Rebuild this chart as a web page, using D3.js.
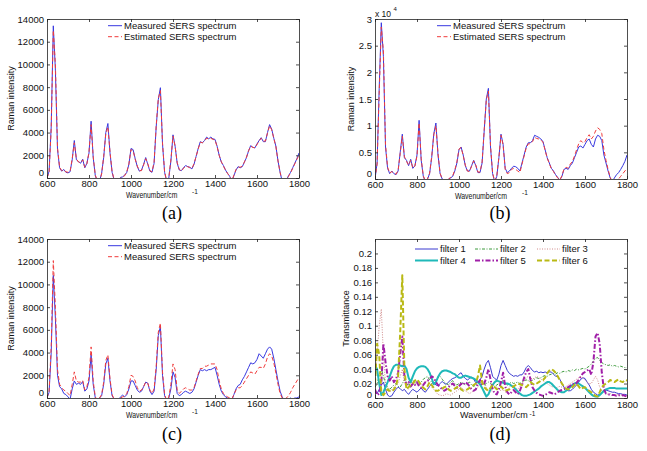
<!DOCTYPE html>
<html><head><meta charset="utf-8">
<script src="https://cdn.jsdelivr.net/npm/d3@7"></script>
<style>body{margin:0;background:#fff}svg{display:block}</style>
</head><body>
<svg id="chart" width="647" height="451"></svg>
<script>
// ---------------- DATA ----------------
const wavenumbers = [
 600,610,620,630,640,650,660,670,680,690, 700,710,720,730,740,750,760,770,780,790,
 800,810,820,830,840,850,860,870,880,890, 900,910,920,930,940,950,960,970,980,990,
 1000,1010,1020,1030,1040,1050,1060,1070,1080,1090, 1100,1110,1120,1130,1140,1150,1160,1170,1180,1190,
 1200,1210,1220,1230,1240,1250,1260,1270,1280,1290, 1300,1310,1320,1330,1340,1350,1360,1370,1380,1390,
 1400,1410,1420,1430,1440,1450,1460,1470,1480,1490, 1500,1510,1520,1530,1540,1550,1560,1570,1580,1590,
 1600,1610,1620,1630,1640,1650,1660,1670,1680,1690, 1700,1710,1720,1730,1740,1750,1760,1770,1780,1790,
 1800];
const xTicks = [600,800,1000,1200,1400,1600,1800];
const yTicksAC = [0,2000,4000,6000,8000,10000,12000,14000];
const yTicksB = [0,5000,10000,15000,20000,25000,30000];
const yTicksD = [0,0.02,0.04,0.06,0.08,0.1,0.12,0.14,0.16,0.18,0.2];

const measuredA = [
 0,600,4500,13400,9500,2500,900,600,750,500,
 450,550,1600,3300,1600,1450,1300,1650,900,1300,
 2200,5000,1800,200,-300,-300,400,1800,4000,4800,
 2200,500,-200,-400,-300,50,100,250,500,1200,
 2600,2500,1700,1000,600,700,1200,1800,1200,600,
 500,1300,4500,6900,7950,3000,500,-300,0,1500,
 3800,2800,1300,700,650,900,1100,1000,950,800,
 1200,1900,2600,3200,3100,3300,3600,3450,3600,3450,
 3400,2800,2000,1400,1100,700,400,150,-300,200,
 700,1000,900,1000,1400,1800,2400,2850,2700,2650,
 3000,3300,3550,3200,3200,4000,4700,4300,3500,2800,
 1500,500,-300,-500,-200,200,500,900,1300,1700,
 2200];
const estimatedA = [
 0,500,4300,13000,10000,2700,950,650,700,550,
 500,600,1700,3100,1700,1400,1350,1600,950,1250,
 2300,4700,1900,250,-250,-300,350,1900,3900,4500,
 2300,550,-150,-400,-300,0,100,200,550,1250,
 2500,2400,1650,1050,650,650,1150,1700,1250,650,
 550,1400,4600,7000,7700,3100,550,-250,50,1600,
 3700,2800,1350,750,600,850,1050,1000,900,850,
 1250,1900,2550,3150,3100,3250,3500,3450,3500,3400,
 3350,2750,2000,1450,1050,700,400,150,-250,250,
 750,950,950,1050,1400,1850,2400,2800,2700,2650,
 2950,3250,3500,3250,3250,3950,4600,4250,3500,2750,
 1500,500,-300,-450,-200,150,450,850,1250,1650,
 2000];
const measuredB = [
 0,3000,17000,29300,23000,6000,2000,1000,1500,1000,
 800,1500,5000,8400,4000,3500,2500,3700,2000,2500,
 4500,11000,3500,500,-500,0,1000,4000,8500,10500,
 4500,1000,0,-300,-500,0,200,500,1500,3000,
 5500,6000,4500,2500,1500,1500,2500,3500,2500,1200,
 1200,3000,9000,15000,17000,6000,1000,-500,500,4000,
 8400,6500,2000,1200,1500,2000,2400,2300,2000,1500,
 3000,4500,6000,6800,6800,7200,8200,8000,7800,7500,
 7000,5500,4000,3000,2000,1500,800,300,-200,500,
 1800,2000,1800,2500,3000,4000,5000,6000,6200,5800,
 6500,7200,7500,6500,6000,7500,8200,8000,7200,4500,
 3000,1500,200,-500,200,800,1200,1800,2500,3300,
 4500];
const estimatedB = [
 0,2800,16000,28500,24000,6500,2200,1100,1400,1100,
 900,1600,4800,8000,4200,3300,2600,3500,2100,2400,
 4300,10500,3800,600,-400,0,1100,4200,8300,10000,
 4800,1100,0,-300,-400,0,300,600,1700,3200,
 5600,5900,4400,2600,1500,1400,2400,3400,2600,1300,
 1300,3200,9200,14800,16500,6300,1100,-400,600,4100,
 8200,6400,1800,1000,1200,1800,2000,1800,1500,1200,
 2800,4300,5800,6600,6600,7000,7800,7600,7500,7300,
 6900,5400,3900,2900,1900,1400,700,200,-200,600,
 1900,2200,2000,2800,3300,4300,5500,6600,7200,6800,
 7000,7800,8300,7500,8000,9000,9600,9300,8500,5500,
 3500,1800,300,-500,-600,-300,0,500,1000,1500,
 2000];
const measuredC1 = [
 0,500,4000,10800,7000,2000,1000,800,400,300,
 100,-100,800,1500,1200,1300,1200,1450,600,800,
 1500,3800,1200,0,-200,0,200,1200,3000,3500,
 1500,200,-100,-200,-200,100,250,100,300,800,
 1500,1500,1100,700,500,600,1000,1400,1300,600,
 300,600,2500,5500,6300,2000,200,-200,0,800,
 2300,1800,400,200,300,500,600,500,400,500,
 800,1400,2000,2500,2400,2500,2400,2500,2500,2600,
 2700,2000,1200,600,300,100,0,-100,-200,300,
 800,1100,1200,1600,1900,2300,2700,3100,3000,3100,
 3400,3900,3700,3500,3900,4300,4500,4300,3500,2500,
 1500,600,100,-200,-200,-100,0,-100,0,0,
 100];
const measuredC2 = [
 0,600,4500,12100,8000,2500,1200,900,700,600,
 400,200,1200,2300,1500,1400,1400,1550,700,1000,
 1800,4500,1500,100,-200,0,300,1400,3300,3800,
 1700,300,-100,-200,-200,0,100,150,400,1000,
 2000,1900,1500,900,600,700,1000,1400,1300,700,
 400,800,2800,5800,6600,2300,300,-200,100,1200,
 3000,2500,700,400,600,800,900,800,700,700,
 900,1500,2100,2600,2600,2800,2800,2900,3000,3000,
 3000,2500,1500,800,400,200,100,0,-100,300,
 700,900,900,1100,1400,1700,2000,2300,2200,2100,
 2400,2700,2700,2600,3000,3600,3900,3700,3100,2200,
 1200,400,0,-100,0,200,500,900,1200,1500,
 1800];
const filter1 = [
 .008,.006,.012,.018,.022,.012,.004,.002,.003,.008,
 .012,.015,.013,.010,.012,.008,.005,.009,.012,.010,
 .008,.011,.014,.010,.008,.012,.016,.020,.022,.018,
 .017,.020,.023,.020,.019,.022,.025,.027,.028,.030,
 .033,.035,.030,.027,.025,.027,.029,.026,.021,.022,
 .025,.030,.040,.048,.052,.042,.030,.027,.025,.033,
 .045,.052,.045,.038,.034,.032,.030,.031,.030,.032,
 .032,.036,.042,.045,.042,.038,.036,.037,.035,.036,
 .035,.036,.035,.036,.036,.033,.030,.030,.026,.020,
 .015,.012,.010,.010,.012,.015,.018,.022,.026,.028,
 .027,.022,.018,.012,.008,.006,.004,.005,.008,.010,
 .011,.010,.009,.008,.008,.007,.006,.006,.005,.005,
 .004];
const filter2 = [
 .015,.020,.030,.040,.030,.020,.015,.012,.015,.018,
 .020,.016,.015,.020,.025,.022,.018,.020,.024,.022,
 .020,.018,.022,.026,.028,.030,.025,.022,.020,.024,
 .028,.030,.026,.022,.020,.018,.022,.024,.020,.018,
 .020,.022,.020,.018,.020,.022,.018,.016,.018,.020,
 .022,.020,.018,.020,.022,.020,.018,.016,.018,.020,
 .022,.024,.020,.018,.020,.022,.020,.021,.022,.020,
 .022,.024,.025,.024,.022,.025,.026,.028,.027,.028,
 .030,.031,.030,.032,.033,.034,.033,.035,.034,.036,
 .037,.036,.038,.037,.039,.038,.040,.039,.040,.041,
 .040,.042,.044,.047,.051,.055,.056,.052,.049,.047,
 .046,.045,.046,.044,.045,.044,.043,.044,.043,.042,
 .042];
const filter3 = [
 .020,.060,.100,.123,.060,.020,.010,.008,.012,.015,
 .018,.020,.030,.040,.020,.015,.012,.015,.018,.020,
 .022,.020,.018,.020,.022,.024,.020,.015,.012,.008,
 .005,.004,.003,.004,.006,.005,.004,.006,.008,.010,
 .012,.015,.012,.010,.008,.006,.008,.010,.012,.015,
 .020,.025,.022,.015,.010,.008,.012,.016,.015,.012,
 .010,.012,.008,.010,.015,.018,.016,.014,.012,.016,
 .020,.024,.028,.030,.028,.026,.028,.030,.028,.026,
 .024,.022,.020,.018,.016,.015,.014,.015,.016,.015,
 .014,.016,.018,.020,.022,.024,.026,.028,.030,.028,
 .025,.022,.020,.020,.025,.030,.025,.015,.010,.008,
 .006,.005,.006,.005,.004,.005,.004,.004,.003,.004,
 .003];
const filter4 = [
 .045,.040,.020,.004,.008,.015,.022,.030,.038,.044,
 .046,.046,.045,.044,.045,.040,.028,.022,.030,.037,
 .041,.043,.044,.044,.043,.040,.035,.027,.019,.022,
 .029,.034,.037,.038,.038,.037,.036,.034,.033,.030,
 .028,.028,.030,.031,.030,.029,.028,.027,.025,.022,
 .019,.014,.008,.002,.005,.012,.018,.022,.024,.023,
 .022,.021,.020,.020,.019,.017,.015,.012,.009,.006,
 .004,.003,.003,.004,.005,.007,.009,.011,.013,.016,
 .018,.020,.022,.022,.020,.017,.014,.011,.009,.008,
 .008,.010,.012,.015,.018,.020,.021,.020,.018,.016,
 .014,.011,.008,.005,.003,.002,.002,.004,.007,.010,
 .012,.013,.014,.014,.014,.013,.013,.013,.013,.013,
 .013];
const filter5 = [
 .012,.004,.006,.020,.075,.050,.030,.024,.030,.022,
 .026,.035,.060,.085,.030,.018,.022,.016,.020,.018,
 .022,.016,.014,.018,.022,.024,.026,.030,.028,.022,
 .018,.015,.012,.010,.012,.015,.018,.020,.017,.014,
 .016,.020,.018,.022,.020,.016,.012,.010,.012,.020,
 .025,.018,.020,.028,.040,.026,.012,.006,.005,.012,
 .022,.035,.016,.008,.005,.008,.011,.008,.005,.010,
 .018,.028,.036,.040,.026,.015,.010,.007,.005,.004,
 .003,.004,.006,.008,.007,.005,.006,.008,.010,.011,
 .012,.014,.015,.017,.020,.019,.021,.025,.030,.034,
 .036,.038,.040,.032,.050,.085,.090,.075,.035,.012,
 .006,.005,.005,.004,.004,.003,.004,.003,.004,.003,
 .002];
const filter6 = [
 .020,.075,.060,.008,.004,.008,.012,.010,.009,.012,
 .016,.030,.090,.170,.040,.012,.015,.018,.020,.024,
 .026,.022,.018,.014,.012,.016,.022,.018,.014,.010,
 .010,.012,.013,.015,.016,.012,.010,.011,.013,.015,
 .016,.012,.010,.011,.012,.014,.016,.018,.020,.030,
 .045,.022,.015,.012,.010,.014,.018,.015,.012,.014,
 .016,.013,.010,.011,.012,.014,.016,.018,.020,.019,
 .018,.016,.015,.018,.022,.020,.018,.020,.022,.024,
 .025,.028,.034,.038,.040,.038,.035,.030,.025,.020,
 .016,.013,.012,.013,.015,.018,.020,.016,.012,.014,
 .015,.012,.010,.008,.005,.003,.002,.008,.015,.018,
 .020,.022,.025,.023,.022,.024,.026,.023,.022,.025,
 .024];

// ---------------- DRAWING ----------------
const svg = d3.select("#chart");
const SANS = "'Liberation Sans', Arial, Helvetica, sans-serif";
const SERIF = "'Liberation Serif', 'Times New Roman', serif";
const BLUE = "#3838e0", RED = "#f03c3c";

function drawPanel(o) {
  const x = d3.scaleLinear().domain([600, 1800]).range([o.left, o.right]);
  const y = d3.scaleLinear().domain(o.yDomain).range([o.bottom, o.top]);
  const clipId = "clip-" + o.id;
  svg.append("clipPath").attr("id", clipId).append("rect")
    .attr("x", o.left).attr("y", o.top)
    .attr("width", o.right - o.left).attr("height", o.bottom - o.top);
  const g = svg.append("g");
  const line = d3.line().x((d, i) => x(wavenumbers[i])).y(d => y(d));
  o.series.forEach(s => {
    g.append("path").attr("clip-path", `url(#${clipId})`)
      .attr("d", line(s.values)).attr("fill", "none")
      .attr("stroke", s.color).attr("stroke-width", s.width)
      .attr("stroke-dasharray", s.dash || null)
      .attr("stroke-linejoin", "round");
  });
  const style = sel => {
    sel.selectAll("path.domain").attr("stroke", "#222").attr("stroke-width", 0.8);
    sel.selectAll(".tick line").attr("stroke", "#222").attr("stroke-width", 0.8);
    sel.selectAll("text").attr("font-family", SANS).attr("font-size", 9.5).attr("fill", "#111");
  };
  svg.append("g").attr("transform", `translate(0,${o.bottom})`)
    .call(d3.axisBottom(x).tickValues(xTicks).tickSizeInner(-3).tickSizeOuter(0).tickPadding(o.xPad).tickFormat(d3.format("d")))
    .call(style);
  svg.append("g").attr("transform", `translate(0,${o.top})`)
    .call(d3.axisTop(x).tickValues(xTicks).tickSizeInner(-3).tickSizeOuter(0).tickFormat(""))
    .call(style);
  const yAx = svg.append("g").attr("transform", `translate(${o.left},0)`)
    .call(d3.axisLeft(y).tickValues(o.yTicks).tickSizeInner(-3).tickSizeOuter(0).tickPadding(3).tickFormat(o.yFormat))
    .call(style);
  // MATLAB nudges the zero label up so it clears the x tick labels
  yAx.selectAll(".tick").filter(d => d === 0).select("text").attr("y", o.zeroShift);
  svg.append("g").attr("transform", `translate(${o.right},0)`)
    .call(d3.axisRight(y).tickValues(o.yTicks).tickSizeInner(-3).tickSizeOuter(0).tickFormat(""))
    .call(style);
  // y label
  svg.append("text").attr("transform", `translate(${o.yLabelX},${(o.top + o.bottom) / 2}) rotate(-90)`)
    .attr("text-anchor", "middle").attr("font-family", SANS).attr("font-size", 9)
    .attr("fill", "#111").text(o.yLabel);
  // x label (horizontally condensed in panels a-c, as in the source figure)
  svg.append("text").attr("transform", `translate(${o.xLabelX},${o.bottom + 19.5}) scale(${o.xLabelScale},1)`)
    .attr("font-family", SANS).attr("font-size", 9).attr("fill", "#111").text("Wavenumber/cm");
  svg.append("text").attr("x", o.supX).attr("y", o.bottom + o.supDy)
    .attr("font-family", SANS).attr("font-size", 6.5).attr("fill", "#111").text("-1");
  // panel tag
  svg.append("text").attr("x", o.tagX).attr("y", o.tagY).attr("text-anchor", "middle")
    .attr("font-family", SERIF).attr("font-size", 18).attr("fill", "#000").text(o.tag);
  // legend
  o.legend.forEach(it => {
    svg.append("line").attr("x1", it.x).attr("x2", it.x + it.len).attr("y1", it.y).attr("y2", it.y)
      .attr("stroke", it.color).attr("stroke-width", it.width).attr("stroke-dasharray", it.dash || null);
    svg.append("text").attr("x", it.x + it.len + 2).attr("y", it.y + 3.4)
      .attr("font-family", SANS).attr("font-size", 9.5).attr("fill", "#111").text(it.label);
  });
  return { x, y };
}

const fmtInt = d3.format("d");

drawPanel({
  id: "a", left: 47, right: 299, top: 19, bottom: 178, yDomain: [0, 14000], yTicks: yTicksAC,
  yFormat: fmtInt, yLabel: "Raman intensity", yLabelX: 14, xLabelX: 126, xLabelScale: 0.76, supX: 192, supDy: 15.5,
  xPad: 2, zeroShift: -5.5,
  tag: "(a)", tagX: 172, tagY: 219,
  series: [
    { values: measuredA, color: BLUE, width: 1 },
    { values: estimatedA, color: RED, width: 1, dash: "4,2.5" }
  ],
  legend: [
    { x: 108, y: 25.7, len: 14, color: BLUE, width: 1, label: "Measured SERS spectrum" },
    { x: 108, y: 36.7, len: 14, color: RED, width: 1, dash: "4,2.5", label: "Estimated SERS spectrum" }
  ]
});

drawPanel({
  id: "b", left: 375, right: 627, top: 19, bottom: 179, yDomain: [0, 30000], yTicks: yTicksB,
  yFormat: d => String(d / 10000), yLabel: "Raman intensity", yLabelX: 354, xLabelX: 455, xLabelScale: 0.77, supX: 522, supDy: 15.5,
  xPad: 2, zeroShift: -5.5,
  tag: "(b)", tagX: 500, tagY: 219,
  series: [
    { values: measuredB, color: BLUE, width: 1 },
    { values: estimatedB, color: RED, width: 1, dash: "4,2.5" }
  ],
  legend: [
    { x: 437, y: 25.7, len: 14, color: BLUE, width: 1, label: "Measured SERS spectrum" },
    { x: 437, y: 36.7, len: 14, color: RED, width: 1, dash: "4,2.5", label: "Estimated SERS spectrum" }
  ]
});
// exponent label for panel (b)
svg.append("text").attr("x", 375).attr("y", 16.5).attr("font-family", SANS).attr("font-size", 8.5)
  .attr("fill", "#111").text("x 10");
svg.append("text").attr("x", 393.5).attr("y", 11).attr("font-family", SANS).attr("font-size", 6)
  .attr("fill", "#111").text("4");

drawPanel({
  id: "c", left: 47, right: 299, top: 239, bottom: 398, yDomain: [0, 14000], yTicks: yTicksAC,
  yFormat: fmtInt, yLabel: "Raman intensity", yLabelX: 14, xLabelX: 126, xLabelScale: 0.76, supX: 192, supDy: 15.5,
  xPad: 2, zeroShift: -5.5,
  tag: "(c)", tagX: 172, tagY: 440,
  series: [
    { values: measuredC1, color: BLUE, width: 1 },
    { values: measuredC2, color: RED, width: 1, dash: "4,2.5" }
  ],
  legend: [
    { x: 108, y: 245.7, len: 14, color: BLUE, width: 1, label: "Measured SERS spectrum" },
    { x: 108, y: 256.7, len: 14, color: RED, width: 1, dash: "4,2.5", label: "Measured SERS spectrum" }
  ]
});

const F1C = "#3a3ad0", F2C = "#3c9a3c", F3C = "#d08a8a", F4C = "#1fb9b9", F5C = "#a01fa8", F6C = "#b9b915";
drawPanel({
  id: "d", left: 375, right: 627, top: 239, bottom: 398, yDomain: [0, 0.22], yTicks: yTicksD,
  yFormat: d => d === 0 ? "0" : String(+d.toFixed(2)), yLabel: "Transmittance", yLabelX: 349,
  xLabelX: 460, xLabelScale: 1, supX: 529.5, supDy: 17.8,
  xPad: 3.6, zeroShift: -3.4,
  tag: "(d)", tagX: 500, tagY: 440,
  series: [
    { values: filter1, color: F1C, width: 1 },
    { values: filter2, color: F2C, width: 1, dash: "3,1.5,1,1.5" },
    { values: filter3, color: F3C, width: 1, dash: "1,1.5" },
    { values: filter4, color: F4C, width: 2 },
    { values: filter5, color: F5C, width: 2, dash: "5,2,1.5,2" },
    { values: filter6, color: F6C, width: 2, dash: "5,2.5" }
  ],
  legend: [
    { x: 415, y: 249, len: 23, color: F1C, width: 1, label: "filter 1" },
    { x: 475, y: 249, len: 23, color: F2C, width: 1, dash: "3,1.5,1,1.5", label: "filter 2" },
    { x: 537, y: 249, len: 23, color: F3C, width: 1, dash: "1,1.5", label: "filter 3" },
    { x: 415, y: 260.5, len: 23, color: F4C, width: 2, label: "filter 4" },
    { x: 475, y: 260.5, len: 23, color: F5C, width: 2, dash: "5,2,1.5,2", label: "filter 5" },
    { x: 537, y: 260.5, len: 23, color: F6C, width: 2, dash: "5,2.5", label: "filter 6" }
  ]
});
</script>
</body></html>
